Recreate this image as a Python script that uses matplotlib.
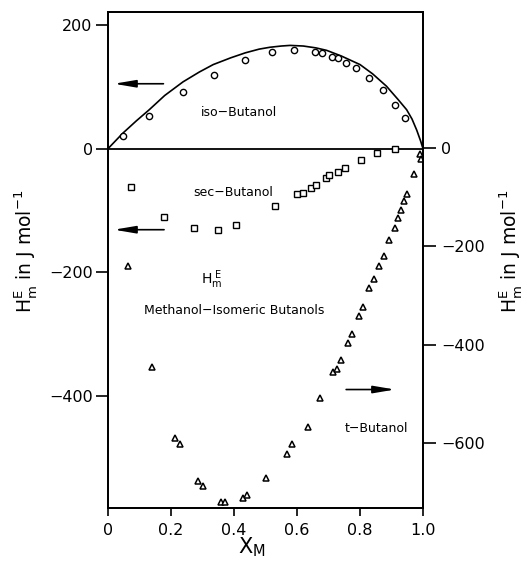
import matplotlib
matplotlib.use('Agg')
import matplotlib.pyplot as plt

plt.rcParams['font.family'] = ['DejaVu Sans']
plt.rcParams['mathtext.default'] = 'regular'

# ---- data ----
# iso-Butanol (left axis): measured points and smooth fitted curve
iso_x = [0.047, 0.131, 0.238, 0.337, 0.436, 0.522, 0.590, 0.656, 0.679, 0.710,
         0.731, 0.754, 0.786, 0.830, 0.872, 0.910, 0.944]
iso_y = [20, 53, 92, 119, 143, 156, 160, 156, 154, 148,
         146, 139, 131, 114, 95, 71, 49]
iso_fit_x = [0, 0.047, 0.09, 0.131, 0.18, 0.238, 0.29, 0.334, 0.39, 0.436, 0.48,
             0.514, 0.55, 0.578, 0.62, 0.66, 0.694, 0.74, 0.80, 0.84, 0.884,
             0.92, 0.948, 0.965, 0.98, 0.992, 1.0]
iso_fit_y = [0, 25, 45, 63, 86, 108, 124, 136, 147, 155, 161,
             164, 166, 167, 166, 163, 159, 150, 136, 121, 101,
             80, 63, 48, 30, 13, 0]

# sec-Butanol (left axis)
sec_x = [0.072, 0.178, 0.272, 0.349, 0.406, 0.531, 0.599, 0.618, 0.643, 0.660,
         0.691, 0.702, 0.731, 0.752, 0.803, 0.853, 0.911]
sec_y = [-62, -110, -129, -131, -123, -93, -74, -71, -64, -58,
         -48, -43, -38, -32, -18, -7, -1]

# t-Butanol (right axis)
tb_x = [0.064, 0.140, 0.214, 0.229, 0.287, 0.303, 0.358, 0.371, 0.429, 0.441,
        0.503, 0.569, 0.585, 0.635, 0.672, 0.715, 0.726, 0.739, 0.763, 0.775,
        0.798, 0.811, 0.829, 0.844, 0.861, 0.875, 0.893, 0.910, 0.921, 0.929,
        0.940, 0.948, 0.970, 0.990, 0.993]
tb_y = [-240, -446, -589, -602, -678, -687, -720, -719, -711, -705,
        -671, -623, -601, -568, -509, -456, -449, -431, -396, -378,
        -341, -324, -285, -267, -240, -220, -187, -163, -142, -126,
        -108, -93, -52, -12, -22]

x_ticks = [0, 0.2, 0.4, 0.6, 0.8, 1.0]
x_ticklabels = ['0', '0.2', '0.4', '0.6', '0.8', '1.0']
left_ticks = [200, 0, -200, -400]
right_ticks = [0, -200, -400, -600]

# ---- figure ----
fig = plt.figure(figsize=(5.27, 5.64), dpi=100)
ax = fig.add_axes([0.2049, 0.0993, 0.5978, 0.8794])
ax.set_xlim(0, 1)
ax.set_ylim(-581, 221)
ax2 = ax.twinx()
ax2.set_ylim(-732, 277)

for a in (ax, ax2):
    for s in a.spines.values():
        s.set_linewidth(1.3)

ax.axhline(0, color='black', lw=1.3, zorder=1)

ax.plot(iso_fit_x, iso_fit_y, color='black', lw=1.2)
ax.plot(iso_x, iso_y, 'o', ms=4.5, mfc='white', mec='black', mew=1.0)
ax.plot(sec_x, sec_y, 's', ms=4.0, mfc='white', mec='black', mew=1.0)
ax2.plot(tb_x, tb_y, '^', ms=4.5, mfc='white', mec='black', mew=1.1)

ax.set_xticks(x_ticks)
ax.set_xticklabels(x_ticklabels)
ax.set_yticks(left_ticks)
ax.set_yticklabels(['200', '0', '\u2212200', '\u2212400'])
ax2.set_yticks(right_ticks)
ax2.set_yticklabels(['0', '\u2212200', '\u2212400', '\u2212600'])

ax.tick_params(axis='x', direction='out', length=6, width=1.2, labelsize=11.5, pad=5, top=False)
ax.tick_params(axis='y', direction='out', length=9, width=1.2, labelsize=11.5, pad=2, right=False)
ax2.tick_params(axis='y', direction='out', length=9, width=1.2, labelsize=11.5, pad=4)

ylab = r'$\mathrm{H_m^E}$ in J mol$^{-1}$'
ax.set_ylabel(ylab, fontsize=13.5, va='center', ha='center')
ax.yaxis.set_label_coords(-0.262, 0.518)
ax2.set_ylabel(ylab, fontsize=13.5, va='center', ha='center', rotation=90)
ax2.yaxis.set_label_coords(1.278, 0.518)
ax.set_xlabel(r'$\mathrm{X_M}$', fontsize=15, va='center')
ax.xaxis.set_label_coords(0.457, -0.079)

# annotations
ax.text(0.416, 59, 'iso\u2212Butanol', fontsize=9, ha='center', va='center')
ax.text(0.396, -71, 'sec\u2212Butanol', fontsize=9, ha='center', va='center')
ax.text(0.330, -212, r'$\mathrm{H_m^{\ E}}$', fontsize=10, ha='center', va='center')
ax.text(0.401, -261, 'Methanol\u2212Isomeric Butanols', fontsize=9, ha='center', va='center')
ax2.text(0.853, -570, 't\u2212Butanol', fontsize=9, ha='center', va='center')

aprops = dict(arrowstyle='-|>,head_length=1.3,head_width=0.22', color='black',
              lw=1.2, mutation_scale=10, shrinkA=0, shrinkB=0)
ax.annotate('', xy=(0.019, 105), xytext=(0.176, 105), arrowprops=aprops)
ax.annotate('', xy=(0.019, -131), xytext=(0.178, -131), arrowprops=aprops)
ax2.annotate('', xy=(0.911, -491), xytext=(0.756, -491), arrowprops=aprops)

fig.savefig('out.png', dpi=100)
